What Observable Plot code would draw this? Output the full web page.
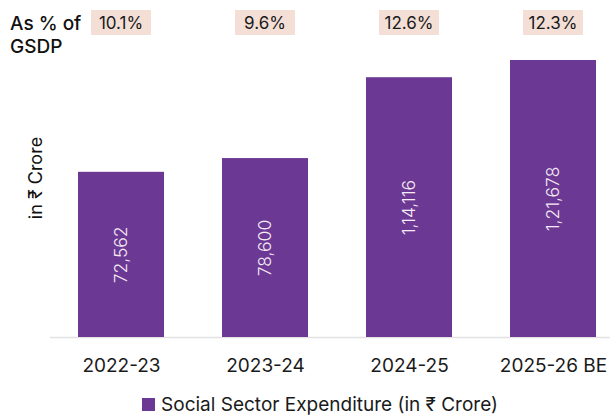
<!DOCTYPE html>
<html>
<head>
<meta charset="utf-8">
<script src="https://cdn.jsdelivr.net/npm/d3@7"></script>
<script src="https://cdn.jsdelivr.net/npm/@observablehq/plot@0.6"></script>
<style>
  html, body { margin: 0; padding: 0; background: #fff; }
  body { width: 610px; height: 415px; overflow: hidden; font-family: Inter, "Noto Sans", sans-serif; color: #1a1a1a; }
  #legend { height: 30px; display: flex; align-items: center; justify-content: center; padding-left: 30px; padding-top: 4px; font-size: 19px; }
  #legend .sw { width: 13px; height: 13px; background: #6b3993; margin-right: 6px; }
</style>
</head>
<body>
<div id="chart"></div>
<div id="legend"><span class="sw"></span><span>Social Sector Expenditure (in ₹ Crore)</span></div>
<script>
const categories = ["2022-23", "2023-24", "2024-25", "2025-26 BE"];
const expenditure = [72562, 78600, 114116, 121678];
const gsdpShare = ["10.1%", "9.6%", "12.6%", "12.3%"];

const data = categories.map((c, i) => ({year: c, value: expenditure[i], share: gsdpShare[i]}));
const barColor = "#6b3993";

const plot = Plot.plot({
  width: 610,
  height: 385,
  marginTop: 60,
  marginBottom: 48,
  marginLeft: 50,
  marginRight: 0,
  style: {fontFamily: "Inter, 'Noto Sans', sans-serif", fontSize: "19px", color: "#1a1a1a", background: "#fff"},
  x: {domain: categories, paddingInner: 0.4, paddingOuter: 0.144, align: 0.67, label: null, tickSize: 0, tickPadding: 21},
  y: {domain: [0, d3.max(expenditure)], axis: null},
  marks: [
    Plot.ruleY([0], {stroke: "#e2e2e2", strokeWidth: 1.5}),
    Plot.barY(data, {x: "year", y: "value", fill: barColor}),
    Plot.text(data, {
      x: "year", y: d => d.value / 2,
      text: d => d.value.toLocaleString("en-IN"),
      rotate: -90, fill: "#f6eaf5", fontSize: 17.5, fontWeight: 300
    })
  ]
});

const svg = d3.select(plot);
const xs = plot.scale("x");
const bw = xs.bandwidth;

// GSDP share row
const g = svg.append("g");
data.forEach(d => {
  const cx = xs.apply(d.year) + bw / 2;
  g.append("rect").attr("x", cx - 30).attr("y", 10).attr("width", 60).attr("height", 25).attr("fill", "#f3dfd6");
  g.append("text").attr("x", cx).attr("y", 23).attr("text-anchor", "middle").attr("dominant-baseline", "central")
    .attr("font-size", 17).attr("fill", "#1a1a1a").text(d.share);
});
svg.append("text").attr("x", 10).attr("y", 30).attr("text-anchor", "start").attr("font-size", 19).attr("font-weight", 500).attr("fill", "#111").text("As % of");
svg.append("text").attr("x", 10).attr("y", 53).attr("text-anchor", "start").attr("font-size", 19).attr("font-weight", 500).attr("fill", "#111").text("GSDP");

// y label
svg.append("text").attr("transform", "translate(35,178) rotate(-90)").attr("text-anchor", "middle")
  .attr("dominant-baseline", "central").attr("font-size", 18).attr("fill", "#111").text("in ₹ Crore");

document.getElementById("chart").appendChild(plot);
</script>
</body>
</html>
